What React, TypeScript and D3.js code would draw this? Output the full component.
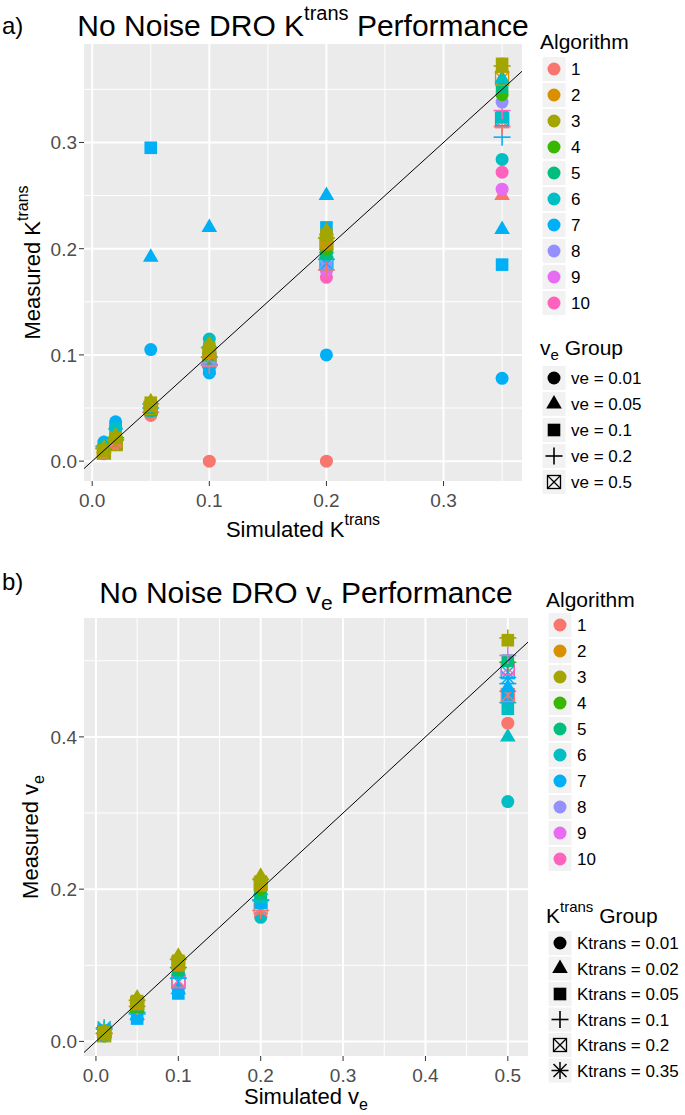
import React from 'react';
import * as d3 from 'd3';

// ---------- DATA ----------
const ALG_COLORS = ['#F8766D', '#D89000', '#A3A500', '#39B600', '#00BF7D', '#00BFC4', '#00B0F6', '#9590FF', '#E76BF3', '#FF62BC'];
const ALGORITHMS = ['1', '2', '3', '4', '5', '6', '7', '8', '9', '10'];

const VE_GROUP_LABELS = ['ve = 0.01', 've = 0.05', 've = 0.1', 've = 0.2', 've = 0.5'];
const VE_GROUP_SHAPES = ['circle', 'triangle', 'square', 'plus', 'boxx'];
const KT_GROUP_LABELS = ['Ktrans = 0.01', 'Ktrans = 0.02', 'Ktrans = 0.05', 'Ktrans = 0.1', 'Ktrans = 0.2', 'Ktrans = 0.35'];
const KT_GROUP_SHAPES = ['circle', 'triangle', 'square', 'plus', 'boxx', 'asterisk'];

const KT_X_TICKS = [0, 0.1, 0.2, 0.3];
const KT_Y_TICKS = [0, 0.1, 0.2, 0.3];
const VE_X_TICKS = [0, 0.1, 0.2, 0.3, 0.4, 0.5];
const VE_Y_TICKS = [0, 0.2, 0.4];

type Pt = [number, number, number]; // [algorithm, group index, measured value]

// Panel a: simulated Ktrans columns, shape = ve group
const KT_SIMULATED = [0.01, 0.02, 0.05, 0.1, 0.2, 0.35];
const kt001: Pt[] = [[7, 0, 0.018], [7, 1, 0.016], [6, 0, 0.015], [7, 3, 0.014], [1, 3, 0.012], [2, 4, 0.009], [5, 2, 0.008], [4, 2, 0.01], [1, 0, 0.007], [3, 4, 0.008], [3, 3, 0.012], [3, 2, 0.01], [3, 1, 0.012]];
const kt002: Pt[] = [[7, 0, 0.037], [7, 1, 0.034], [7, 2, 0.03], [6, 0, 0.031], [1, 3, 0.02], [5, 3, 0.022], [4, 4, 0.017], [2, 2, 0.02], [1, 0, 0.016], [3, 4, 0.016], [3, 3, 0.02], [3, 2, 0.022], [3, 1, 0.024]];
const kt005: Pt[] = [[7, 2, 0.295], [7, 1, 0.192], [7, 0, 0.105], [1, 0, 0.043], [1, 3, 0.046], [6, 0, 0.047], [5, 2, 0.048], [4, 4, 0.05], [2, 2, 0.052], [7, 3, 0.05], [3, 4, 0.05], [3, 3, 0.054], [3, 2, 0.055], [3, 1, 0.056]];
const kt010: Pt[] = [[1, 0, 0.0], [7, 1, 0.22], [7, 0, 0.083], [7, 2, 0.087], [7, 3, 0.091], [7, 4, 0.094], [6, 0, 0.115], [6, 1, 0.111], [1, 3, 0.09], [1, 4, 0.095], [5, 2, 0.1], [4, 3, 0.098], [8, 4, 0.096], [2, 2, 0.102], [3, 4, 0.1], [3, 3, 0.107], [3, 2, 0.106], [3, 1, 0.11]];
const kt020: Pt[] = [[1, 0, 0.0], [7, 0, 0.1], [7, 1, 0.25], [7, 2, 0.22], [10, 0, 0.173], [9, 0, 0.179], [8, 0, 0.185], [7, 3, 0.19], [7, 4, 0.186], [1, 3, 0.18], [6, 1, 0.2], [6, 0, 0.197], [5, 2, 0.195], [4, 0, 0.2], [2, 2, 0.205], [3, 4, 0.205], [3, 3, 0.21], [3, 2, 0.213], [3, 1, 0.217]];
const kt035: Pt[] = [[7, 0, 0.078], [7, 2, 0.185], [7, 1, 0.218], [1, 1, 0.25], [9, 0, 0.256], [10, 0, 0.272], [6, 0, 0.284], [7, 3, 0.305], [1, 3, 0.315], [1, 4, 0.32], [7, 4, 0.322], [6, 2, 0.324], [10, 3, 0.33], [8, 0, 0.338], [4, 0, 0.345], [5, 2, 0.352], [2, 4, 0.36], [6, 1, 0.36], [3, 3, 0.372], [3, 2, 0.374], [3, 1, 0.37]];
const KT_COLUMNS = [kt001, kt002, kt005, kt010, kt020, kt035];

// Panel b: simulated ve columns, shape = Ktrans group
const VE_SIMULATED = [0.01, 0.05, 0.1, 0.2, 0.5];
const ve001: Pt[] = [[7, 5, 0.016], [6, 5, 0.018], [7, 4, 0.013], [6, 4, 0.012], [1, 3, 0.01], [5, 2, 0.009], [4, 1, 0.011], [7, 0, 0.007], [2, 2, 0.01], [3, 4, 0.008], [3, 3, 0.011], [3, 2, 0.012], [3, 1, 0.013], [3, 0, 0.009]];
const ve005: Pt[] = [[7, 2, 0.03], [7, 1, 0.034], [7, 5, 0.036], [7, 3, 0.038], [6, 0, 0.044], [1, 3, 0.046], [5, 2, 0.046], [4, 4, 0.047], [2, 2, 0.05], [3, 4, 0.05], [3, 3, 0.054], [3, 2, 0.053], [3, 1, 0.057]];
const ve010: Pt[] = [[7, 2, 0.063], [7, 1, 0.068], [7, 4, 0.078], [1, 4, 0.08], [10, 4, 0.079], [7, 3, 0.083], [6, 0, 0.09], [5, 2, 0.094], [4, 3, 0.097], [2, 2, 0.1], [3, 4, 0.103], [3, 3, 0.108], [3, 2, 0.106], [3, 1, 0.112]];
const ve020: Pt[] = [[6, 0, 0.163], [1, 5, 0.172], [1, 4, 0.176], [7, 2, 0.182], [7, 3, 0.185], [7, 5, 0.186], [6, 2, 0.19], [5, 2, 0.195], [6, 1, 0.198], [4, 0, 0.2], [2, 2, 0.205], [3, 4, 0.207], [3, 3, 0.213], [3, 2, 0.21], [3, 1, 0.217]];
const ve050: Pt[] = [[6, 0, 0.315], [6, 1, 0.4], [1, 0, 0.418], [6, 2, 0.437], [6, 3, 0.445], [7, 2, 0.452], [1, 4, 0.455], [1, 3, 0.46], [7, 1, 0.465], [7, 3, 0.47], [7, 5, 0.478], [7, 4, 0.485], [10, 4, 0.49], [4, 3, 0.498], [5, 2, 0.5], [9, 3, 0.507], [3, 3, 0.53], [3, 2, 0.527]];
const VE_COLUMNS = [ve001, ve005, ve010, ve020, ve050];

// ---------- DRAWING ----------
const FONT = '"Liberation Sans", Arial, Helvetica, sans-serif';

function Shape({ type, x, y, color }: { type: string; x: number; y: number; color: string }) {
  const t = `translate(${x},${y})`;
  switch (type) {
    case 'circle':
      return <circle cx={x} cy={y} r={6.5} fill={color} />;
    case 'triangle':
      return <path transform={t} d="M0,-9 L7.8,4.5 L-7.8,4.5 Z" fill={color} />;
    case 'square':
      return <rect x={x - 6.3} y={y - 6.3} width={12.6} height={12.6} fill={color} />;
    case 'plus':
      return (
        <g transform={t} stroke={color} strokeWidth={1.6}>
          <line x1={-8.5} y1={0} x2={8.5} y2={0} />
          <line x1={0} y1={-8.5} x2={0} y2={8.5} />
        </g>
      );
    case 'boxx':
      return (
        <g transform={t} stroke={color} strokeWidth={1.3} fill="none">
          <rect x={-6.5} y={-6.5} width={13} height={13} />
          <line x1={-6.5} y1={-6.5} x2={6.5} y2={6.5} />
          <line x1={-6.5} y1={6.5} x2={6.5} y2={-6.5} />
        </g>
      );
    case 'asterisk':
      return (
        <g transform={t} stroke={color} strokeWidth={1.5}>
          <line x1={-8.5} y1={0} x2={8.5} y2={0} />
          <line x1={0} y1={-8.5} x2={0} y2={8.5} />
          <line x1={-6.5} y1={-6.5} x2={6.5} y2={6.5} />
          <line x1={-6.5} y1={6.5} x2={6.5} y2={-6.5} />
        </g>
      );
    default:
      return null;
  }
}

function pad(ext: [number, number]): [number, number] {
  const r = ext[1] - ext[0];
  return [ext[0] - 0.05 * r, ext[1] + 0.05 * r];
}

function minorTicks(major: number[], dom: [number, number]) {
  const step = major[1] - major[0];
  const out: number[] = [];
  for (let v = major[0] - step / 2; v <= dom[1]; v += step) {
    if (v >= dom[0]) out.push(+v.toFixed(6));
  }
  return out;
}

type PanelProps = {
  id: string;
  left: number; right: number; top: number; bottom: number;
  sims: number[]; columns: Pt[][];
  xTicks: number[]; yTicks: number[];
  shapes: string[];
};

function Panel({ id, left, right, top, bottom, sims, columns, xTicks, yTicks, shapes }: PanelProps) {
  const pts = columns.flatMap((col, i) => col.map(([a, g, v]) => ({ a, g, x: sims[i], y: v })));
  const xDom = pad(d3.extent(sims) as [number, number]);
  const yDom = pad(d3.extent(pts, (p) => p.y) as [number, number]);
  const xs = d3.scaleLinear().domain(xDom).range([left, right]);
  const ys = d3.scaleLinear().domain(yDom).range([bottom, top]);
  const xMinor = minorTicks(xTicks, xDom);
  const yMinor = minorTicks(yTicks, yDom);
  const fmt = d3.format('.1f');
  const lo = Math.min(xDom[0], yDom[0]);
  const hi = Math.max(xDom[1], yDom[1]);
  return (
    <g>
      <defs>
        <clipPath id={id}>
          <rect x={left} y={top} width={right - left} height={bottom - top} />
        </clipPath>
      </defs>
      <rect x={left} y={top} width={right - left} height={bottom - top} fill="#EBEBEB" />
      <g stroke="#FFFFFF" strokeWidth={1}>
        {xMinor.map((v) => <line key={'xm' + v} x1={xs(v)} x2={xs(v)} y1={top} y2={bottom} />)}
        {yMinor.map((v) => <line key={'ym' + v} y1={ys(v)} y2={ys(v)} x1={left} x2={right} />)}
      </g>
      <g stroke="#FFFFFF" strokeWidth={2}>
        {xTicks.map((v) => <line key={'xM' + v} x1={xs(v)} x2={xs(v)} y1={top} y2={bottom} />)}
        {yTicks.map((v) => <line key={'yM' + v} y1={ys(v)} y2={ys(v)} x1={left} x2={right} />)}
      </g>
      <g clipPath={`url(#${id})`}>
        {pts.map((p, i) => (
          <Shape key={i} type={shapes[p.g]} x={xs(p.x)} y={ys(p.y)} color={ALG_COLORS[p.a - 1]} />
        ))}
        <line x1={xs(lo)} y1={ys(lo)} x2={xs(hi)} y2={ys(hi)} stroke="#000" strokeWidth={1} />
      </g>
      <g stroke="#333333" strokeWidth={1}>
        {xTicks.map((v) => <line key={'xt' + v} x1={xs(v)} x2={xs(v)} y1={bottom} y2={bottom + 5} />)}
        {yTicks.map((v) => <line key={'yt' + v} y1={ys(v)} y2={ys(v)} x1={left - 5} x2={left} />)}
      </g>
      <g fill="#4D4D4D" fontSize={19} fontFamily={FONT}>
        {xTicks.map((v) => (
          <text key={'xl' + v} x={xs(v)} y={bottom + 26} textAnchor="middle">{fmt(v)}</text>
        ))}
        {yTicks.map((v) => (
          <text key={'yl' + v} x={left - 7} y={ys(v) + 7} textAnchor="end">{fmt(v)}</text>
        ))}
      </g>
    </g>
  );
}

function LegendKey({ x, y }: { x: number; y: number }) {
  return <rect x={x} y={y - 12.5} width={24} height={25} fill="#F2F2F2" stroke="#FFFFFF" strokeWidth={1} />;
}

function AlgorithmLegend({ x, titleY, firstY, step }: { x: number; titleY: number; firstY: number; step: number }) {
  return (
    <g fontFamily={FONT}>
      <text x={x - 2} y={titleY} fontSize={21} fill="#000">Algorithm</text>
      {ALGORITHMS.map((a, i) => {
        const cy = firstY + i * step;
        return (
          <g key={a}>
            <LegendKey x={x} y={cy} />
            <Shape type="circle" x={x + 12} y={cy} color={ALG_COLORS[i]} />
            <text x={x + 29} y={cy + 6} fontSize={17} fill="#000">{a}</text>
          </g>
        );
      })}
    </g>
  );
}

function GroupLegend({ x, firstY, step, labels, shapes }: { x: number; firstY: number; step: number; labels: string[]; shapes: string[] }) {
  return (
    <g fontFamily={FONT}>
      {labels.map((l, i) => {
        const cy = firstY + i * step;
        return (
          <g key={l}>
            <LegendKey x={x} y={cy} />
            <Shape type={shapes[i]} x={x + 12} y={cy} color="#000" />
            <text x={x + 29} y={cy + 6} fontSize={17} fill="#000">{l}</text>
          </g>
        );
      })}
    </g>
  );
}

export default function App() {
  const A = { left: 84, right: 522, top: 44, bottom: 481 };
  const B = { left: 84, right: 528, top: 618, bottom: 1056 };
  return (
    <svg width={685} height={1115} viewBox="0 0 685 1115"
      style={{ position: 'absolute', left: 0, top: 0, background: '#fff' }}
      fontFamily={FONT}>
      <rect x={0} y={0} width={685} height={1115} fill="#fff" />

      {/* Panel a */}
      <text x={2} y={34} fontSize={24} fill="#000">a)</text>
      <text x={(A.left + A.right) / 2} y={36} fontSize={30} textAnchor="middle" fill="#000">
        No Noise DRO K<tspan fontSize={20} dy={-16}>trans</tspan><tspan dy={16}> Performance</tspan>
      </text>
      <Panel id="clipA" {...A} sims={KT_SIMULATED} columns={KT_COLUMNS} xTicks={KT_X_TICKS} yTicks={KT_Y_TICKS} shapes={VE_GROUP_SHAPES} />
      <text x={(A.left + A.right) / 2} y={537} fontSize={22} textAnchor="middle" fill="#000">
        Simulated K<tspan fontSize={16} dy={-12}>trans</tspan>
      </text>
      <text transform={`translate(40,${(A.top + A.bottom) / 2}) rotate(-90)`} fontSize={22} textAnchor="middle" fill="#000">
        Measured K<tspan fontSize={16} dy={-12}>trans</tspan>
      </text>
      <AlgorithmLegend x={542} titleY={49} firstY={69} step={26} />
      <text x={540} y={355} fontSize={21} fill="#000">v<tspan fontSize={15} dy={5}>e</tspan><tspan dy={-5}> Group</tspan></text>
      <GroupLegend x={542} firstY={378} step={26} labels={VE_GROUP_LABELS} shapes={VE_GROUP_SHAPES} />

      {/* Panel b */}
      <text x={2} y={590} fontSize={24} fill="#000">b)</text>
      <text x={(B.left + B.right) / 2} y={603} fontSize={30} textAnchor="middle" fill="#000">
        No Noise DRO v<tspan fontSize={21} dy={7}>e</tspan><tspan dy={-7}> Performance</tspan>
      </text>
      <Panel id="clipB" {...B} sims={VE_SIMULATED} columns={VE_COLUMNS} xTicks={VE_X_TICKS} yTicks={VE_Y_TICKS} shapes={KT_GROUP_SHAPES} />
      <text x={(B.left + B.right) / 2} y={1104} fontSize={22} textAnchor="middle" fill="#000">
        Simulated v<tspan fontSize={16} dy={6}>e</tspan>
      </text>
      <text transform={`translate(38,${(B.top + B.bottom) / 2}) rotate(-90)`} fontSize={22} textAnchor="middle" fill="#000">
        Measured v<tspan fontSize={16} dy={6}>e</tspan>
      </text>
      <AlgorithmLegend x={548} titleY={607} firstY={625} step={26} />
      <text x={546} y={923} fontSize={21} fill="#000">K<tspan fontSize={15} dy={-11}>trans</tspan><tspan dy={11}> Group</tspan></text>
      <GroupLegend x={548} firstY={943} step={25.5} labels={KT_GROUP_LABELS} shapes={KT_GROUP_SHAPES} />
    </svg>
  );
}
